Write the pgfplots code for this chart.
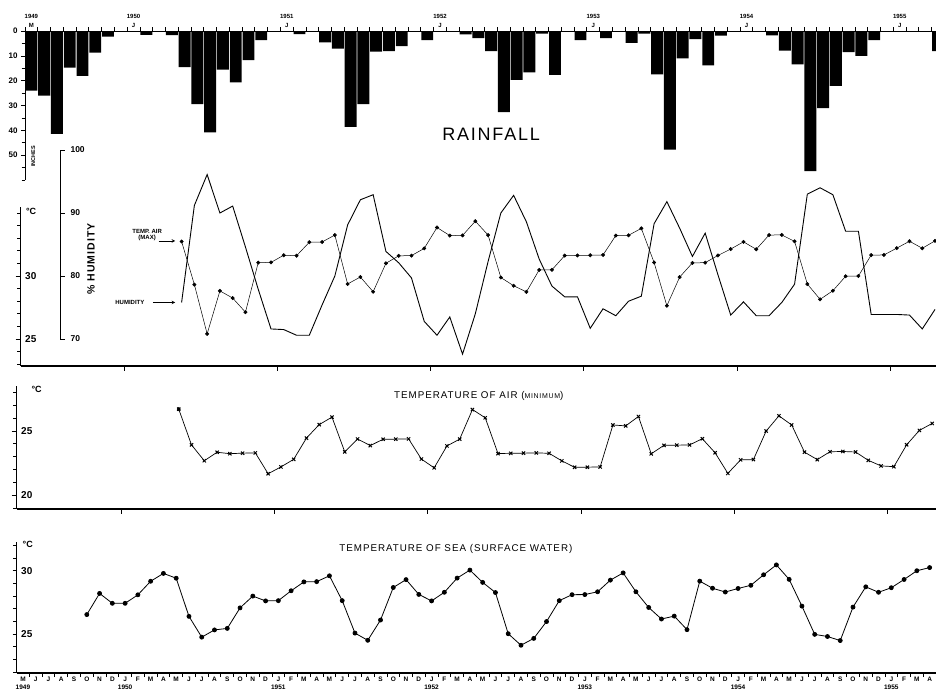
\documentclass[border=0pt]{standalone}
\usepackage{fontspec}
\setmainfont{Liberation Sans}
\newfontfamily\spacedfont[LetterSpace=10]{Liberation Sans}
\usepackage{pgfplots}
\usepackage{pgfplotstable}
\pgfplotsset{compat=1.18}

% month index m: 0 = May 1949 ... 71 = April 1955
\pgfplotstableread{
m r
0 24
1 26
2 41.4
3 14.7
4 18
5 8.6
6 2.2
7 0
8 0
9 1.5
10 0
11 1.6
12 14.5
13 29.4
14 40.8
15 15.5
16 20.6
17 11.7
18 3.6
19 0
20 0
21 1.2
22 0
23 4.5
24 7
25 38.6
26 29.4
27 8.2
28 8
29 6
30 0
31 3.6
32 0
33 0
34 1.3
35 2.8
36 8
37 32.6
38 19.6
39 16.6
40 1
41 17.6
42 0
43 3.6
44 0
45 2.8
46 0
47 4.7
48 1
49 17.4
50 47.8
51 11
52 3.2
53 13.8
54 1.8
55 0
56 0
57 0
58 1.7
59 7.8
60 13.4
61 56.4
62 31
63 22
64 8.4
65 10
66 3.6
67 0
68 0
69 0
70 0
71 8
}\raintab

\pgfplotstableread{
m t
12 32.74
13 29.32
14 25.41
15 28.82
16 28.25
17 27.13
18 31.06
19 31.08
20 31.65
21 31.61
22 32.68
23 32.70
24 33.25
25 29.37
26 29.92
27 28.75
28 31.01
29 31.60
30 31.62
31 32.19
32 33.85
33 33.21
34 33.22
35 34.35
36 33.25
37 29.88
38 29.23
39 28.74
40 30.48
41 30.49
42 31.62
43 31.63
44 31.65
45 31.67
46 33.21
47 33.23
48 33.78
49 31.07
50 27.64
51 29.91
52 31.04
53 31.06
54 31.63
55 32.14
56 32.71
57 32.12
58 33.25
59 33.26
60 32.75
61 29.36
62 28.15
63 28.83
64 29.98
65 30.00
66 31.66
67 31.67
68 32.21
69 32.76
70 32.20
71 32.79
}\tmaxtab

\pgfplotstableread{
m h
12 75.8
13 91.2
14 96.1
15 90.0
16 91.1
17 84.6
18 77.9
19 71.6
20 71.5
21 70.6
22 70.6
23 75.4
24 80.0
25 88.1
26 92.1
27 92.9
28 83.9
29 82.1
30 79.7
31 72.8
32 70.6
33 73.5
34 67.6
35 74.0
36 82.3
37 90.0
38 92.8
39 88.6
40 82.7
41 78.4
42 76.7
43 76.7
44 71.7
45 74.8
46 73.7
47 76.0
48 76.8
49 88.3
50 91.8
51 87.6
52 83.1
53 86.8
54 80.2
55 73.8
56 75.9
57 73.7
58 73.7
59 75.8
60 78.7
61 93.0
62 94.0
63 92.9
64 87.1
65 87.1
66 73.9
67 73.9
68 73.9
69 73.8
70 71.6
71 74.7
}\humtab

\pgfplotstableread{
m t
12 26.70
13 23.92
14 22.69
15 23.35
16 23.24
17 23.28
18 23.30
19 21.68
20 22.21
21 22.80
22 24.45
23 25.50
24 26.08
25 23.38
26 24.38
27 23.87
28 24.36
29 24.37
30 24.39
31 22.82
32 22.14
33 23.84
34 24.37
35 26.67
36 26.03
37 23.25
38 23.27
39 23.28
40 23.30
41 23.27
42 22.68
43 22.18
44 22.19
45 22.21
46 25.47
47 25.40
48 26.13
49 23.23
50 23.89
51 23.90
52 23.92
53 24.40
54 23.31
55 21.71
56 22.76
57 22.78
58 25.00
59 26.18
60 25.47
61 23.36
62 22.78
63 23.39
64 23.41
65 23.37
66 22.72
67 22.29
68 22.23
69 23.93
70 25.05
71 25.59
}\tmintab

\pgfplotstableread{
m t
5 26.54
6 28.21
7 27.43
8 27.43
9 28.10
10 29.17
11 29.79
12 29.41
13 26.40
14 24.76
15 25.33
16 25.45
17 27.07
18 28.00
19 27.62
20 27.64
21 28.42
22 29.12
23 29.14
24 29.60
25 27.64
26 25.08
27 24.51
28 26.11
29 28.68
30 29.30
31 28.13
32 27.62
33 28.30
34 29.42
35 30.05
36 29.08
37 28.28
38 25.03
39 24.12
40 24.66
41 25.99
42 27.64
43 28.11
44 28.12
45 28.34
46 29.26
47 29.83
48 28.34
49 27.10
50 26.19
51 26.42
52 25.35
53 29.18
54 28.62
55 28.32
56 28.60
57 28.85
58 29.68
59 30.46
60 29.32
61 27.21
62 24.98
63 24.81
64 24.49
65 27.13
66 28.73
67 28.30
68 28.66
69 29.31
70 30.00
71 30.25
}\seatab

\newcommand\yrfont{\fontsize{6}{6}\selectfont\bfseries}
\newcommand\byrfont{\fontsize{6.5}{6.5}\selectfont\bfseries}
\newcommand\mofont{\fontsize{6.5}{6.5}\selectfont\bfseries}
\newcommand\smallcap{\fontsize{6}{6}\selectfont\bfseries}

\pgfplotsset{
  panel/.style={
    scale only axis, clip=false,
    axis line style={-, line width=1pt},
    tick style={black, line width=0.8pt},
    /pgf/number format/assume math mode=true,
    tick label style={font=\fontsize{9.5}{9.5}\selectfont\bfseries},
    major tick length=5pt, minor tick length=3.5pt,
    tick align=outside,
  },
}

\begin{document}
\begin{tikzpicture}
\useasboundingbox (0pt,0pt) rectangle (936pt,696pt);
\clip (0pt,0pt) rectangle (936pt,696pt);

% ---------------- Rainfall
\begin{axis}[panel, at={(25pt,516pt)}, anchor=south west,
  width=911pt, height=148.8pt,
  xmin=-0.5, xmax=70.84, ymin=-60, ymax=0,
  axis x line*=top, axis y line*=left,
  xtick={-0.5,0.5,...,70.5}, xticklabels={},
  ytick={-50,-40,-30,-20,-10,0}, yticklabels={50,40,30,20,10,0},
  minor ytick={-60,-55,-45,-35,-25,-15,-5},
  major tick length=4pt,
  yticklabel style={font=\fontsize{8}{8}\selectfont\bfseries},
]
\addplot[ybar, bar width=0.93, bar shift=0pt, fill=black, draw=none]
  table[x=m, y expr=-\thisrow{r}] {\raintab};
\node[font=\yrfont, yshift=15pt] at (axis cs:0,0) {1949};
\node[font=\yrfont, yshift=6pt] at (axis cs:0,0) {M};
\node[font=\yrfont, yshift=15pt] at (axis cs:8,0) {1950};
\node[font=\yrfont, yshift=6pt] at (axis cs:8,0) {J};
\node[font=\yrfont, yshift=15pt] at (axis cs:20,0) {1951};
\node[font=\yrfont, yshift=6pt] at (axis cs:20,0) {J};
\node[font=\yrfont, yshift=15pt] at (axis cs:32,0) {1952};
\node[font=\yrfont, yshift=6pt] at (axis cs:32,0) {J};
\node[font=\yrfont, yshift=15pt] at (axis cs:44,0) {1953};
\node[font=\yrfont, yshift=6pt] at (axis cs:44,0) {J};
\node[font=\yrfont, yshift=15pt] at (axis cs:56,0) {1954};
\node[font=\yrfont, yshift=6pt] at (axis cs:56,0) {J};
\node[font=\yrfont, yshift=15pt] at (axis cs:68,0) {1955};
\node[font=\yrfont, yshift=6pt] at (axis cs:68,0) {J};
\node[font=\spacedfont\fontsize{18}{18}\selectfont] at (axis cs:36,-41.5) {RAINFALL};
\node[font=\fontsize{5.5}{5.5}\selectfont\bfseries, rotate=90] at (axis cs:0.15,-50.4) {INCHES};
\end{axis}

% ---------------- Temp air max & humidity
\begin{axis}[panel, at={(20.7pt,330pt)}, anchor=south west,
  width=915.6pt, height=159.3pt,
  xmin=-0.6, xmax=71.1, ymin=22.86, ymax=35.5,
  axis x line*=bottom, axis y line*=left,
  x axis line style={line width=1.6pt},
  xtick={7.5,19.5,...,67.5}, xticklabels={}, 
  ytick={25,30}, minor ytick={23,...,35},
  yticklabel style={anchor=west, xshift=6pt, font=\fontsize{10}{10}\selectfont\bfseries},
]
\addplot[line width=0.9pt] table[x=m, y expr={25+(\thisrow{h}-70)/2}] {\humtab};
\addplot[line width=0.5pt, mark=*, mark size=1.7pt] table[x=m, y=t] {\tmaxtab};
\node[font=\fontsize{9}{9}\selectfont\bfseries, anchor=west] at (axis cs:-0.45,35.1) {°C};
\node[font=\smallcap, align=center] at (axis cs:9.3,33.25) {TEMP. AIR\\(MAX)};
\draw[-stealth, line width=0.6pt] (axis cs:10.2,32.78) -- (axis cs:11.5,32.78);
\node[font=\smallcap] at (axis cs:7.95,27.9) {HUMIDITY};
\draw[-stealth, line width=0.6pt] (axis cs:9.75,27.9) -- (axis cs:11.5,27.9);
\node[font=\spacedfont\fontsize{10.5}{10.5}\selectfont\bfseries, rotate=90] at (axis cs:4.9,31.35) {\% HUMIDITY};
\end{axis}

% humidity scale
\begin{axis}[panel, at={(60pt,357pt)}, anchor=south west,
  width=1pt, height=189pt,
  xmin=0, xmax=1, ymin=70, ymax=100,
  axis x line=none, axis y line*=left,
  ytick={70,80,90,100}, tick align=inside,
  yticklabel style={anchor=west, xshift=7pt, font=\fontsize{8.5}{8.5}\selectfont\bfseries},
]
\end{axis}

% ---------------- Temp air min
\begin{axis}[panel, at={(16.7pt,187pt)}, anchor=south west,
  width=919.3pt, height=123pt,
  xmin=-0.69, xmax=71.3, ymin=18.94, ymax=28.5,
  axis x line*=bottom, axis y line*=left,
  x axis line style={line width=1.6pt},
  xtick={7.5,19.5,...,67.5}, xticklabels={},
  ytick={20,25}, minor ytick={19,...,28},
  yticklabel style={anchor=west, xshift=6pt, font=\fontsize{10}{10}\selectfont\bfseries},
]
\addplot[line width=0.7pt, mark=x, mark size=2.3pt, mark options={line width=1pt}] table[x=m, y=t] {\tmintab};
\addplot[only marks, mark=*, mark size=1.7pt] coordinates {(12,26.70)};
\node[font=\fontsize{9}{9}\selectfont\bfseries, anchor=west] at (axis cs:0.2,28.2) {°C};
\node[font=\spacedfont\fontsize{9.8}{9.8}\selectfont] at (axis cs:35.5,27.72) {TEMPERATURE OF AIR ({\fontsize{7}{7}\selectfont MINIMUM})};
\end{axis}

% ---------------- Sea temperature
\begin{axis}[panel, at={(16.7pt,23pt)}, anchor=south west,
  width=919.3pt, height=131.4pt,
  xmin=-0.49, xmax=71.5, ymin=21.93, ymax=32.3,
  axis x line*=bottom, axis y line*=left,
  x axis line style={line width=1.6pt},
  xtick={-0.5,0.5,...,71.5}, xticklabels={}, major tick length=4pt,
  extra x ticks={0,...,71},
  extra x tick labels={M,J,J,A,S,O,N,D,J,F,M,A,M,J,J,A,S,O,N,D,J,F,M,A,M,J,J,A,S,O,N,D,J,F,M,A,M,J,J,A,S,O,N,D,J,F,M,A,M,J,J,A,S,O,N,D,J,F,M,A,M,J,J,A,S,O,N,D,J,F,M,A},
  extra x tick style={major tick length=0pt, tick label style={font=\mofont}},
  ytick={25,30}, minor ytick={22,...,32},
  yticklabel style={anchor=west, xshift=5pt, font=\fontsize{10}{10}\selectfont\bfseries},
]
\addplot[line width=0.8pt, mark=*, mark size=2pt] table[x=m, y=t] {\seatab};
\node[font=\fontsize{9}{9}\selectfont\bfseries, anchor=west] at (axis cs:-0.3,32.1) {°C};
\node[font=\spacedfont\fontsize{9.8}{9.8}\selectfont] at (axis cs:33.9,31.7) {TEMPERATURE OF SEA (SURFACE WATER)};
\node[font=\byrfont, yshift=-14pt] at (axis cs:0,21.93) {1949};
\node[font=\byrfont, yshift=-14pt] at (axis cs:8,21.93) {1950};
\node[font=\byrfont, yshift=-14pt] at (axis cs:20,21.93) {1951};
\node[font=\byrfont, yshift=-14pt] at (axis cs:32,21.93) {1952};
\node[font=\byrfont, yshift=-14pt] at (axis cs:44,21.93) {1953};
\node[font=\byrfont, yshift=-14pt] at (axis cs:56,21.93) {1954};
\node[font=\byrfont, yshift=-14pt] at (axis cs:68,21.93) {1955};
\end{axis}
\end{tikzpicture}
\end{document}
